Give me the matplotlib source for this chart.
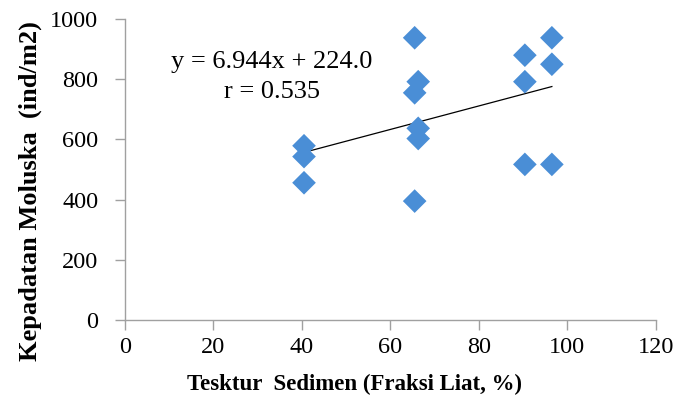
import numpy as np
import matplotlib.pyplot as plt

plt.rcParams['font.family'] = ['Liberation Serif', 'DejaVu Serif']

# sediment texture (clay fraction, %) and mollusc density (ind/m2)
liat = [40.5, 40.5, 40.5, 65.5, 66.3, 65.5, 66.3, 66.3, 65.5,
        90.4, 90.4, 90.4, 96.5, 96.5, 96.5]
kepadatan = [579, 543, 456, 938, 792, 755, 637, 603, 395,
             880, 792, 517, 938, 850, 517]

x_ticks = [0, 20, 40, 60, 80, 100, 120]
y_ticks = [0, 200, 400, 600, 800, 1000]

eq_text = "y = 6.944x + 224.0"
r_text = "r = 0.535"

fig = plt.figure(figsize=(6.97, 4.07), dpi=100)
ax = fig.add_axes([0.179, 0.214, 0.762, 0.739])

ax.scatter(liat, kepadatan, marker='D', s=145, color='#4A8ED6',
           edgecolors='none', zorder=3)

# linear trendline (least squares)
xs = np.array(liat)
coef = np.polyfit(xs, np.array(kepadatan), 1)
xl = np.array([xs.min(), xs.max()])
ax.plot(xl, np.polyval(coef, xl), color='black', lw=0.9, zorder=2)

ax.set_xlim(0, 120)
ax.set_ylim(0, 1000)
ax.set_xticks(x_ticks)
ax.set_yticks(y_ticks)

for side in ['top', 'right']:
    ax.spines[side].set_visible(False)
for side in ['left', 'bottom']:
    ax.spines[side].set_color('#A0A0A0')
    ax.spines[side].set_linewidth(1.0)
ax.tick_params(axis='both', colors='#A0A0A0', labelcolor='black',
               labelsize=17.5, length=7, width=1.0, direction='out')
ax.tick_params(axis='y', pad=12)
ax.tick_params(axis='x', pad=5)

ax.set_xlabel("Tesktur  Sedimen (Fraksi Liat, %)", fontsize=16.5,
              fontweight='bold')
ax.set_ylabel("Kepadatan Moluska  (ind/m2)", fontsize=19,
              fontweight='bold')
ax.xaxis.set_label_coords(0.433, -0.178)
ax.yaxis.set_label_coords(-0.156, 0.43)

ax.text(0.277, 0.857, eq_text, transform=ax.transAxes, fontsize=19,
        ha='center', va='center')
ax.text(0.277, 0.757, r_text, transform=ax.transAxes, fontsize=19,
        ha='center', va='center')

fig.savefig("out.png", dpi=100)
